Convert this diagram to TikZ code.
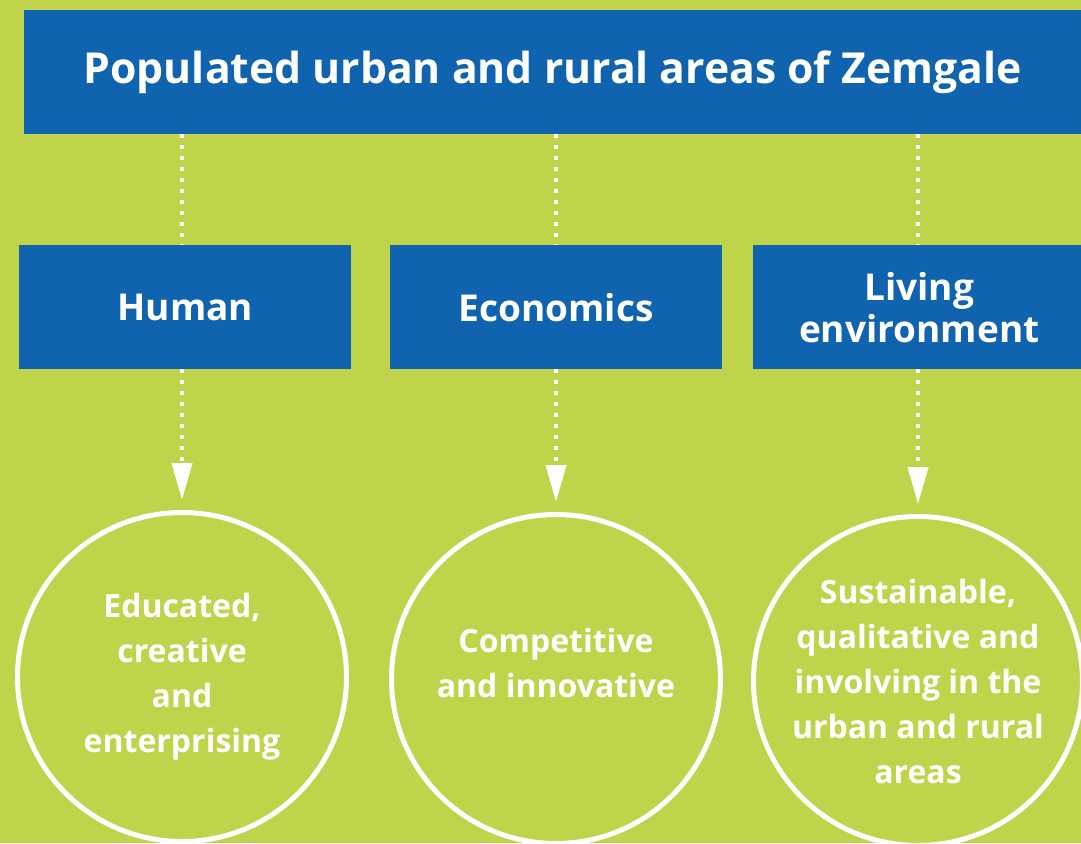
\documentclass[tikz,border=0pt]{standalone}
\usepackage{fontspec}
\setmainfont{Open Sans}
\usetikzlibrary{arrows.meta}
\definecolor{lime}{RGB}{191,212,74}
\definecolor{zblue}{RGB}{16,99,174}
\begin{document}
\begin{tikzpicture}[x=1pt,y=-1pt,
  box/.style={fill=zblue, text=white, font=\bfseries\fontsize{37}{42}\selectfont, align=center, inner sep=0pt, minimum width=332pt, minimum height=124pt, anchor=north west},
  goal/.style={circle, draw=white, line width=5pt, text=white, font=\bfseries\fontsize{32}{45}\selectfont, align=center, minimum size=329pt, inner sep=0pt},
  dots/.style={white, line width=4pt, dash pattern=on 4pt off 7pt},
  link/.style={dots, -{Triangle[width=20pt,length=37pt]}, shorten >=10pt}]
\fill[lime] (0,0) rectangle (1081,843);
\clip (0,0) rectangle (1081,843);
\node[box, minimum width=1057pt, font=\bfseries\fontsize{42.7}{44}\selectfont] (top) at (24,10) {Populated urban and rural areas of Zemgale};
\node[box] (h) at (19,245) {Human};
\node[box] (e) at (390,245) {Economics};
\node[box] (l) at (753,245) {Living\\environment};
\node[goal] (hc) at (182,677) {Educated,\\creative\\and\\enterprising};
\node[goal, text depth=32pt] (ec) at (556,679) {Competitive\\and innovative};
\node[goal] (lc) at (918,681) {Sustainable,\\qualitative and\\involving in the\\urban and rural\\areas};
\draw[dots] (top.south -| hc) -- (h.north -| hc);
\draw[dots] (top.south -| ec) -- (e.north -| ec);
\draw[dots] (top.south -| lc) -- (l.north -| lc);
\draw[link] (h.south -| hc) -- (hc.north);
\draw[link] (e.south -| ec) -- (ec.north);
\draw[link] (l.south -| lc) -- (lc.north);
\end{tikzpicture}
\end{document}
